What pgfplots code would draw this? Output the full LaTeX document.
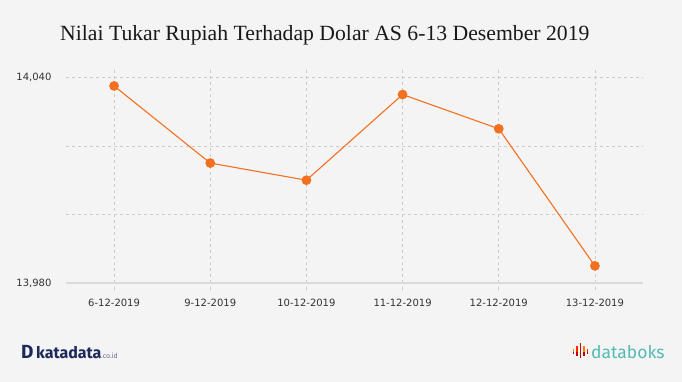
\documentclass[border=0pt]{standalone}
\usepackage{pgfplots}
\pgfplotsset{compat=1.18}
\usepackage{fontspec}
\setmainfont{DejaVu Sans}
\newfontfamily\titlefont{Liberation Serif}
\newfontfamily\logofont{Fira Sans}
\definecolor{bg}{HTML}{F4F4F4}
\definecolor{gridc}{HTML}{CCCCCC}
\definecolor{axisc}{HTML}{DADADA}
\definecolor{lineo}{HTML}{F37021}
\definecolor{navy}{HTML}{1B2A5A}
\definecolor{teal}{HTML}{55BAB5}
\definecolor{tickc}{HTML}{333333}
\begin{document}
\begin{tikzpicture}[x=1pt,y=1pt]
\fill[bg] (0,0) rectangle (682,-382);
\node[anchor=base west, inner sep=0pt, font=\titlefont\fontsize{21.7}{24}\selectfont, text=black!90] at (60,-41) {Nilai Tukar Rupiah Terhadap Dolar AS 6-13 Desember 2019};
\begin{axis}[
  at={(66pt,-283pt)}, anchor=south west,
  scale only axis, width=577pt, height=205.6pt,
  xmin=-0.5, xmax=5.5, ymin=13980, ymax=14040,
  scaled y ticks=false,
  xtick={0,1,2,3,4,5},
  xticklabels={6-12-2019,9-12-2019,10-12-2019,11-12-2019,12-12-2019,13-12-2019},
  ytick={13980,14000,14020,14040},
  yticklabels={13{,}980,,,14{,}040},
  axis line style={draw=none},
  tick align=outside,
  major tick length=7pt,
  x tick style={gridc, dash pattern=on 3pt off 3pt, line width=0.8pt},
  y tick style={draw=none},
  grid=major,
  major grid style={gridc, dash pattern=on 3pt off 3pt, line width=0.8pt},
  tick label style={font=\fontsize{10}{12}\selectfont, text=tickc},
  xticklabel style={yshift=-6pt},
  yticklabel style={xshift=-4pt},
  /pgf/number format/assume math mode=true,
  clip=false,
]
\draw[axisc, line width=1.5pt] (rel axis cs:0,0) -- (rel axis cs:1,0);
\addplot[lineo, line width=1.1pt, mark=*, mark size=4.3pt, mark options={solid, fill=lineo, draw=lineo}]
  coordinates {(0,14037.5) (1,14015) (2,14010) (3,14035) (4,14025) (5,13985)};
\end{axis}
% logos
\node[anchor=base west, inner sep=0pt, text=navy, font=\logofont\bfseries\fontsize{19}{20}\selectfont] at (21,-358) {D};
\node[anchor=base west, inner sep=0pt, text=navy, font=\logofont\bfseries\fontsize{16}{18}\selectfont] at (36,-358) {katadata};
\node[anchor=base west, inner sep=0pt, text=navy!70, font=\logofont\fontsize{7}{8}\selectfont] at (101,-358) {.co.id};
\foreach \xx/\hh/\cc in {572.5/7/orange, 576/12/red!70!orange, 579.5/19/red!80!black, 583/12/orange, 586.5/7/red!70!orange}{
  \fill[\cc] (\xx,-352) rectangle (\xx+1.7,-352+\hh/2);
  \fill[red!75!black] (\xx,-352) rectangle (\xx+1.7,-352-\hh/3);
}
\node[anchor=base west, inner sep=0pt, text=teal, font=\logofont\fontsize{17.5}{20}\selectfont] at (591,-358) {databoks};
\end{tikzpicture}
\end{document}
